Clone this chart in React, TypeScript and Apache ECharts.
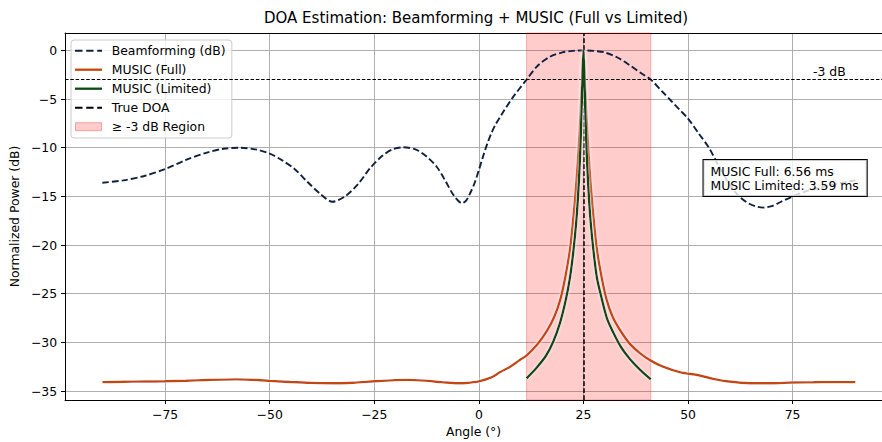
import React, { useEffect, useRef } from 'react';
import * as echarts from 'echarts';

// Beamforming response (dB)
const bfAngles = [-90, -85, -80, -75, -70, -65, -61, -57, -53, -50, -47, -44, -41, -38, -35, -32, -29, -26, -23, -20.5, -18, -15, -12.5, -10, -8, -6, -4, -3, -2, -1, 0, 1, 2, 3, 4, 5, 6, 8, 11.4, 14, 17, 20, 22.5, 25, 27.5, 30, 33, 36, 39, 41.1, 44, 46, 48, 50, 52.5, 55, 57.5, 60, 62, 64, 66, 68, 70, 72, 75, 78, 81.5, 86, 90];
const bfDb = [-13.6, -13.35, -12.9, -12.2, -11.25, -10.5, -10.1, -10.0, -10.2, -10.6, -11.3, -12.2, -13.5, -14.7, -15.55, -15.0, -13.8, -12.1, -10.8, -10.15, -9.95, -10.2, -10.9, -12.0, -13.4, -14.9, -15.7, -15.4, -14.6, -13.6, -12.3, -10.9, -9.6, -8.5, -7.6, -6.9, -6.2, -4.9, -3.0, -1.6, -0.65, -0.2, -0.05, 0, -0.05, -0.2, -0.7, -1.5, -2.4, -3.0, -4.3, -5.2, -6.1, -7.0, -8.5, -10.0, -12.0, -13.8, -14.9, -15.6, -16.0, -16.15, -16.0, -15.6, -15.0, -14.5, -14.1, -13.65, -13.35];

// MUSIC (Full) pseudo-spectrum (dB)
const fullAngles = [-90, -85, -80, -75, -70, -65, -58, -53, -50, -45, -40, -35, -30, -25, -20, -17, -13, -9, -5, -3, 0, 3, 5.1, 7.5, 9.5, 11.5, 14, 16.3, 18, 19.5, 20.7, 21.8, 22.8, 23.5, 24, 24.4, 24.7, 25, 25.3, 25.6, 26, 26.5, 27.2, 28.2, 29.3, 30.5, 32, 33.7, 36, 38.5, 41, 44, 48, 52.8, 56, 59.2, 64.8, 70, 75, 80, 85, 90];
const fullDb = [-34.08, -34.05, -34.02, -34.0, -33.94, -33.86, -33.8, -33.86, -33.95, -34.07, -34.16, -34.2, -34.14, -34.0, -33.88, -33.85, -33.93, -34.08, -34.2, -34.17, -34.0, -33.6, -33.05, -32.5, -31.9, -31.3, -30.2, -28.8, -27.4, -25.55, -23.2, -20.4, -16.2, -12.4, -9.0, -5.6, -2.6, 0, -2.6, -5.6, -9.0, -12.4, -16.2, -20.4, -23.2, -25.55, -27.4, -28.7, -30.1, -31.1, -31.85, -32.5, -33.05, -33.4, -33.75, -34.0, -34.2, -34.2, -34.12, -34.1, -34.08, -34.08];

// MUSIC (Limited) pseudo-spectrum (dB), only inside the -3 dB region
const limAngles = [11.4, 13.8, 16, 17.8, 19.4, 20.8, 21.8, 22.6, 23.3, 23.8, 24.2, 24.5, 24.75, 25, 25.25, 25.5, 25.8, 26.2, 26.7, 27.4, 28.2, 29.2, 30.6, 32.1, 34, 36.1, 38.5, 41.1];
const limDb = [-33.7, -32.6, -31.4, -29.9, -28.0, -25.6, -23.3, -20.6, -17.5, -14.3, -10.8, -7, -3.2, 0, -3.2, -7, -10.8, -14.3, -17.5, -20.6, -23.3, -25.2, -27.5, -28.96, -30.5, -31.7, -32.8, -33.8];

const trueDoa = 25;
const thresholdDb = -3;
const regionStart = 11.4;
const regionEnd = 41.1;
const musicFullMs = 6.56;
const musicLimitedMs = 3.59;

const xTicks = [-75, -50, -25, 0, 25, 50, 75];
const yTicks = [-35, -30, -25, -20, -15, -10, -5, 0];
const xRange = [-98.92, 96.37];
const yRange = [-35.92, 1.79];

const FONT = "'DejaVu Sans', sans-serif";
const FS = 12.4;

const pairs = (xs: number[], ys: number[]) => xs.map((x, i) => [x, ys[i]]);
const fmt = (v: number) => (v < 0 ? '\u2212' + Math.abs(v) : String(v));

const DASH_ICON = 'path://M0,0h7.5v1.9h-7.5zM11.2,0h7.3v1.9h-7.3zM22.2,0h4.8v1.9h-4.8z';
const SOLID_ICON = 'path://M0,0h27v2.3h-27z';
const PATCH_ICON = 'path://M0,0h27v8.3h-27z';

const BF_COLOR = '#10213f';
const FULL_COLOR = '#c4470a';
const LIM_COLOR = '#0b4a12';

export default function App() {
  const ref = useRef<HTMLDivElement>(null);
  useEffect(() => {
    document.body.style.margin = '0';
    if (!ref.current) return;
    const chart = echarts.init(ref.current, null, { renderer: 'svg' });
    const axisLine = { show: true, onZero: false, lineStyle: { color: '#000', width: 1 } };
    const axisTick = { show: true, length: 4, inside: false, lineStyle: { color: '#000', width: 1 } };
    const splitLine = { show: true, lineStyle: { color: '#a6a6a6', width: 0.9 } };
    const nameTextStyle = { fontSize: FS, color: '#000', fontFamily: FONT };
    chart.setOption({
      animation: false,
      backgroundColor: '#fff',
      title: {
        text: 'DOA Estimation: Beamforming + MUSIC (Full vs Limited)',
        left: 264,
        top: 10,
        padding: 0,
        textStyle: { fontSize: 15, fontWeight: 'normal', color: '#000', fontFamily: FONT },
      },
      grid: {
        left: 64.7,
        top: 33,
        right: 0,
        bottom: 40.7,
        show: false,
      },
      legend: {
        orient: 'vertical',
        left: 71,
        top: 40,
        padding: [3.7, 6.3, 4.3, 4],
        itemWidth: 27,
        itemHeight: 8,
        itemGap: 5,
        backgroundColor: 'rgba(255,255,255,0.8)',
        borderColor: '#cccccc',
        borderWidth: 1,
        borderRadius: 3,
        selectedMode: false,
        textStyle: { fontSize: FS, color: '#000', fontFamily: FONT, lineHeight: 14, padding: [0, 0, 0, 4.7] },
        data: [
          { name: 'Beamforming (dB)', icon: DASH_ICON, itemStyle: { color: BF_COLOR, borderWidth: 0 } },
          { name: 'MUSIC (Full)', icon: SOLID_ICON, itemStyle: { color: FULL_COLOR, borderWidth: 0 } },
          { name: 'MUSIC (Limited)', icon: SOLID_ICON, itemStyle: { color: LIM_COLOR, borderWidth: 0 } },
          { name: 'True DOA', icon: DASH_ICON, itemStyle: { color: '#000', borderWidth: 0 } },
          {
            name: '\u2265 -3 dB Region',
            icon: PATCH_ICON,
            itemStyle: { color: 'rgba(255,0,0,0.2)', borderColor: 'rgba(220,0,0,0.3)', borderWidth: 1 },
          },
        ],
      },
      xAxis: [
        {
          type: 'value',
          min: xRange[0],
          max: xRange[1],
          minInterval: 25,
          maxInterval: 25,
          splitNumber: 8,
          name: 'Angle (\u00b0)',
          nameLocation: 'middle',
          nameGap: 25,
          nameTextStyle,
          axisLine,
          splitLine,
          axisTick: { ...axisTick, customValues: xTicks },
          axisLabel: {
            customValues: xTicks,
            formatter: (v: number) => (xTicks.includes(v) ? fmt(v) : ''),
            fontSize: FS,
            color: '#000',
            fontFamily: FONT,
            margin: 8,
          },
        },
        {
          type: 'value',
          position: 'top',
          min: xRange[0],
          max: xRange[1],
          axisLine,
          axisTick: { show: false },
          axisLabel: { show: false },
          splitLine: { show: false },
        },
      ],
      yAxis: {
        type: 'value',
        min: yRange[0],
        max: yRange[1],
        minInterval: 5,
        maxInterval: 5,
        splitNumber: 8,
        name: 'Normalized Power (dB)',
        nameLocation: 'middle',
        nameGap: 38,
        nameTextStyle,
        axisLine,
        splitLine,
        axisTick: { ...axisTick, customValues: yTicks },
        axisLabel: {
          customValues: yTicks,
          formatter: (v: number) => (yTicks.includes(v) ? fmt(v) : ''),
          fontSize: FS,
          color: '#000',
          fontFamily: FONT,
          margin: 8,
        },
      },
      series: [
        {
          name: '\u2265 -3 dB Region',
          type: 'line',
          data: [],
          z: 1,
          color: 'rgba(255,0,0,0.2)',
          markArea: {
            silent: true,
            itemStyle: { color: 'rgba(255,0,0,0.2)', borderColor: 'rgba(220,0,0,0.25)', borderWidth: 1 },
            data: [[{ xAxis: regionStart }, { xAxis: regionEnd }]],
          },
        },
        {
          name: 'Beamforming (dB)',
          type: 'line',
          data: pairs(bfAngles, bfDb),
          symbol: 'none',
          smooth: 0.3,
          z: 3,
          color: BF_COLOR,
          lineStyle: { color: BF_COLOR, width: 1.9, type: [6.6, 3] },
        },
        {
          name: 'MUSIC (Full)',
          type: 'line',
          data: pairs(fullAngles, fullDb),
          symbol: 'none',
          smooth: 0.3,
          z: 4,
          color: FULL_COLOR,
          lineStyle: { color: FULL_COLOR, width: 2.4, shadowColor: 'rgba(255,255,255,0.95)', shadowBlur: 3 },
        },
        {
          name: 'MUSIC (Limited)',
          type: 'line',
          data: pairs(limAngles, limDb),
          symbol: 'none',
          smooth: 0.3,
          z: 5,
          color: LIM_COLOR,
          lineStyle: { color: LIM_COLOR, width: 2.4, shadowColor: 'rgba(255,255,255,0.95)', shadowBlur: 3 },
        },
        {
          name: 'True DOA',
          type: 'line',
          data: [],
          z: 6,
          color: '#000',
          markLine: {
            silent: true,
            symbol: ['none', 'none'],
            label: { show: false },
            lineStyle: { color: '#000', width: 1.5, type: [4.8, 2.2] },
            data: [{ xAxis: trueDoa }],
          },
        },
        {
          name: '-3 dB',
          type: 'line',
          data: [],
          z: 6,
          color: '#000',
          markLine: {
            silent: true,
            symbol: ['none', 'none'],
            label: { show: false },
            lineStyle: { color: '#000', width: 1, type: [3.5, 1.8] },
            data: [{ yAxis: thresholdDb }],
          },
        },
      ],
      graphic: [
        {
          type: 'text',
          x: 813,
          y: 71.5,
          z: 10,
          style: {
            text: `${thresholdDb} dB`,
            fontSize: FS,
            fontFamily: FONT,
            fill: '#000',
            verticalAlign: 'middle',
          },
        },
        {
          type: 'text',
          x: 703.5,
          y: 160,
          z: 10,
          style: {
            text: `MUSIC Full: ${musicFullMs.toFixed(2)} ms\nMUSIC Limited: ${musicLimitedMs.toFixed(2)} ms`,
            fontSize: FS,
            fontFamily: FONT,
            fill: '#000',
            lineHeight: 14,
            backgroundColor: 'rgba(255,255,255,0.8)',
            borderColor: '#000',
            borderWidth: 1,
            padding: [4, 8, 4, 7],
          },
        },
      ],
    });
    return () => chart.dispose();
  }, []);
  return <div ref={ref} style={{ position: 'fixed', left: 0, top: 0, width: 882, height: 442 }} />;
}
